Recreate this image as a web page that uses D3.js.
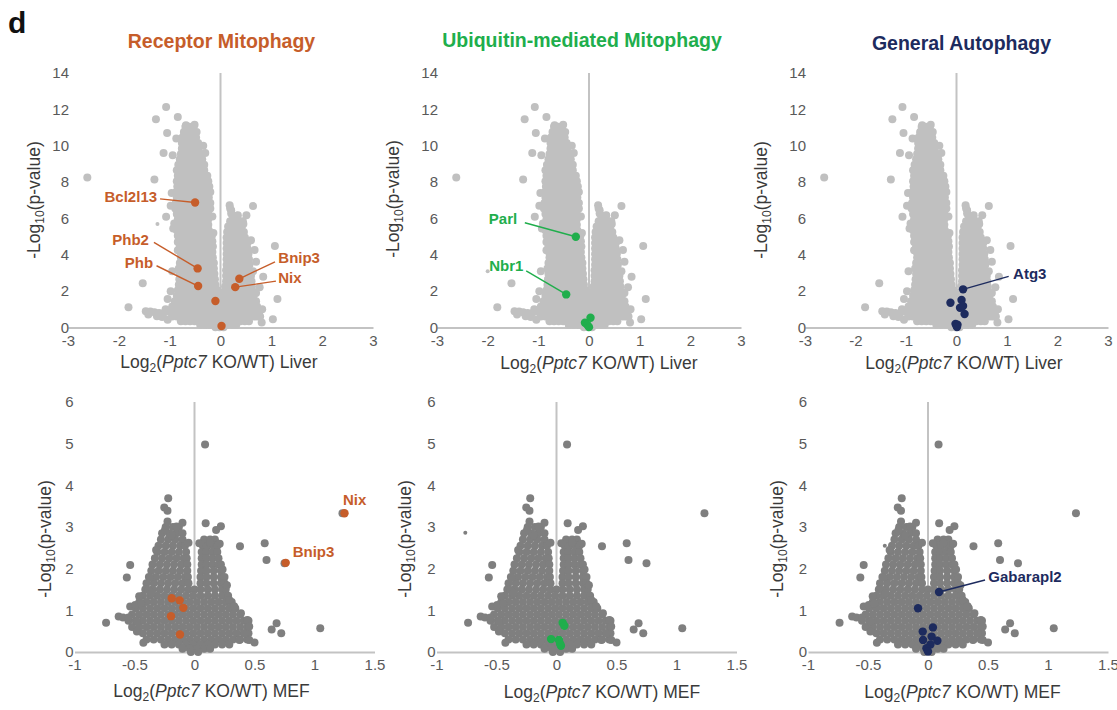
<!DOCTYPE html>
<meta charset="utf-8">
<style>
body{margin:0;background:#fff;}
text{font-family:"Liberation Sans",Arial,sans-serif;}
.ptitle{font-size:19.5px;font-weight:bold;text-anchor:middle;}
.atitle{font-size:17.5px;fill:#3a3a3a;text-anchor:middle;}
.gene{font-size:15px;font-weight:bold;}
</style>
<body>
<script src="https://cdn.jsdelivr.net/npm/d3@7"></script>
<script>

// tick values
var liverXTicks=[-3,-2,-1,0,1,2,3];
var liverYTicks=[0,2,4,6,8,10,12,14];
var mefXTicks=[-1,-0.5,0,0.5,1,1.5];
var mefYTicks=[0,1,2,3,4,5,6];

// liver background proteins: dense body as rows [y,[x...]], plus scattered ones [x,y]
var liverRows=[
[11.05,[-0.69,-0.61,-0.53]],
[10.75,[-0.72,-0.63,-0.54,-0.47]],
[10.45,[-0.75,-0.66,-0.57,-0.48]],
[10.15,[-0.76,-0.67,-0.58,-0.49,-0.44]],
[9.85,[-0.76,-0.67,-0.58,-0.49,-0.43]],
[9.55,[-0.78,-0.69,-0.60,-0.51,-0.42,-0.38]],
[9.25,[-0.80,-0.71,-0.62,-0.53,-0.44,-0.36]],
[8.95,[-0.83,-0.74,-0.65,-0.56,-0.47,-0.38,-0.32]],
[8.65,[-0.86,-0.77,-0.68,-0.59,-0.50,-0.41,-0.32]],
[8.35,[-0.84,-0.75,-0.66,-0.57,-0.48,-0.39,-0.30,-0.26]],
[8.05,[-0.86,-0.77,-0.68,-0.59,-0.50,-0.41,-0.32,-0.24]],
[7.75,[-0.85,-0.76,-0.67,-0.58,-0.49,-0.40,-0.31,-0.22]],
[7.45,[-0.87,-0.78,-0.69,-0.60,-0.51,-0.42,-0.33,-0.24,-0.20]],
[7.15,[-0.86,-0.77,-0.68,-0.59,-0.50,-0.41,-0.32,-0.23]],
[6.85,[-0.88,-0.79,-0.70,-0.61,-0.52,-0.43,-0.34,-0.25,-0.20]],
[6.55,[-0.89,-0.80,-0.71,-0.62,-0.53,-0.44,-0.35,-0.26,-0.20]],
[6.25,[-0.86,-0.77,-0.68,-0.59,-0.50,-0.41,-0.32,-0.24]],
[5.95,[-0.84,-0.75,-0.66,-0.57,-0.48,-0.39,-0.30,-0.24]],
[5.65,[-0.85,-0.76,-0.67,-0.58,-0.49,-0.40,-0.31,-0.24]],
[5.35,[-0.86,-0.77,-0.68,-0.59,-0.50,-0.41,-0.32,-0.23]],
[5.05,[-0.84,-0.75,-0.66,-0.57,-0.48,-0.39,-0.30,-0.21,-0.17]],
[4.75,[-0.82,-0.73,-0.64,-0.55,-0.46,-0.37,-0.28,-0.19,-0.16]],
[4.45,[-0.80,-0.71,-0.62,-0.53,-0.44,-0.35,-0.26,-0.17,-0.15]],
[4.15,[-0.79,-0.70,-0.61,-0.52,-0.43,-0.34,-0.25,-0.16]],
[3.85,[-0.78,-0.69,-0.60,-0.51,-0.42,-0.33,-0.24,-0.15]],
[3.55,[-0.80,-0.71,-0.62,-0.53,-0.44,-0.35,-0.26,-0.17,-0.13]],
[3.25,[-0.82,-0.73,-0.64,-0.55,-0.46,-0.37,-0.28,-0.19,-0.13]],
[2.95,[-0.80,-0.71,-0.62,-0.53,-0.44,-0.35,-0.26,-0.17,-0.12]],
[2.65,[-0.81,-0.72,-0.63,-0.54,-0.45,-0.36,-0.27,-0.18,-0.11]],
[2.35,[-0.82,-0.73,-0.64,-0.55,-0.46,-0.37,-0.28,-0.19,-0.10]],
[2.05,[-0.84,-0.75,-0.66,-0.57,-0.48,-0.39,-0.30,-0.21,-0.12,-0.06]],
[6.45,[0.21]],
[6.15,[0.24,0.33]],
[5.85,[0.19,0.28,0.37,0.44]],
[5.55,[0.15,0.24,0.33,0.42]],
[5.25,[0.13,0.22,0.31,0.40,0.46]],
[4.95,[0.12,0.21,0.30,0.39,0.48]],
[4.65,[0.12,0.21,0.30,0.39,0.48,0.53]],
[4.35,[0.12,0.21,0.30,0.39,0.48,0.53]],
[4.05,[0.12,0.21,0.30,0.39,0.48,0.55]],
[3.75,[0.12,0.21,0.30,0.39,0.48,0.56]],
[3.45,[0.12,0.21,0.30,0.39,0.48,0.57]],
[3.15,[0.11,0.20,0.29,0.38,0.47,0.56]],
[2.85,[0.11,0.20,0.29,0.38,0.47,0.56,0.60]],
[2.55,[0.11,0.20,0.29,0.38,0.47,0.56,0.61]],
[2.25,[0.09,0.18,0.27,0.36,0.45,0.54,0.62]],
[1.95,[0.07,0.16,0.25,0.34,0.43,0.52,0.61,0.65]],
[1.75,[-0.86,-0.77,-0.68,-0.59,-0.50,-0.41,-0.32,-0.23,-0.14,-0.06,0.04,0.12,0.20,0.29,0.38,0.47,0.56,0.65]],
[1.45,[-0.90,-0.81,-0.72,-0.63,-0.54,-0.45,-0.36,-0.27,-0.18,-0.09,0.00,0.09,0.18,0.27,0.36,0.45,0.54,0.63,0.70]],
[1.15,[-0.95,-0.86,-0.77,-0.68,-0.59,-0.50,-0.41,-0.32,-0.23,-0.14,-0.05,0.04,0.13,0.22,0.31,0.40,0.49,0.58,0.67,0.72]],
[0.85,[-1.00,-0.91,-0.82,-0.73,-0.64,-0.55,-0.46,-0.37,-0.28,-0.19,-0.10,-0.01,0.08,0.17,0.26,0.35,0.44,0.53,0.62,0.70,0.76]],
[0.60,[-0.95,-0.86,-0.77,-0.68,-0.59,-0.50,-0.41,-0.32,-0.23,-0.14,-0.05,0.04,0.13,0.22,0.31,0.40,0.49,0.58,0.66,0.72]],
[0.35,[-0.78,-0.69,-0.60,-0.51,-0.42,-0.33,-0.24,-0.15,-0.06,0.03,0.12,0.21,0.30,0.39,0.48,0.56]],
[0.15,[-0.40,-0.31,-0.22,-0.13,-0.04,0.05,0.14,0.23,0.31]],
[0.02,[-0.10,-0.02,0.06]]
];
var liverSparse=[
[-1.07,12.13],[-1.27,11.46],[-0.84,11.58],[-0.68,11.13],[-0.51,11.16],[-1.05,10.70],[-0.87,10.40],[-0.71,10.67],
[-1.12,9.60],[-0.94,9.48],[-1.30,8.14],[-2.62,8.25],[-1.07,6.09],[-0.91,5.72],[-0.93,5.45],[-0.84,4.71],[-0.84,4.25],
[-0.95,3.10],[-0.98,2.00],[-0.96,7.40],[-0.98,6.70],[-0.30,9.60],[-0.34,10.00],[-0.16,6.10],[-0.14,5.20],
[0.18,6.73],[0.64,6.68],[0.19,6.55],[0.21,6.27],[0.34,6.18],[0.51,6.18],[0.45,5.70],[1.07,4.48],[0.67,4.26],
[0.70,3.62],[0.84,2.79],[0.77,2.21],[0.70,1.90],[1.12,1.57],[0.82,1.00],[0.78,0.60],[1.03,0.45],[0.81,0.27],
[0.60,4.80],[0.64,3.10],
[-1.53,2.43],[-1.81,1.11],[-1.04,1.57],[-1.47,0.90],[-1.38,0.88],[-1.30,0.84],[-1.21,0.80],[-1.12,0.78],
[-1.42,0.72],[-1.25,0.62],[-1.15,0.58],[-1.04,0.42],[-1.08,1.00]
];

// MEF background proteins
var mefRows=[
[3.00,[-0.24,-0.18,-0.13]],
[2.85,[-0.27,-0.21,-0.15,-0.10]],
[2.70,[-0.28,-0.22,-0.16,-0.10,0.08,0.13,0.17]],
[2.55,[-0.30,-0.24,-0.18,-0.12,-0.08,0.07,0.11,0.16,0.19]],
[2.40,[-0.31,-0.25,-0.19,-0.13,-0.07,0.06,0.10,0.15,0.19]],
[2.25,[-0.33,-0.27,-0.21,-0.15,-0.09,-0.065,0.06,0.10,0.15,0.20]],
[2.10,[-0.35,-0.29,-0.23,-0.17,-0.11,-0.06,0.06,0.10,0.15,0.20,0.22]],
[1.95,[-0.36,-0.30,-0.24,-0.18,-0.12,-0.06,0.055,0.10,0.16,0.22]],
[1.80,[-0.38,-0.32,-0.26,-0.20,-0.14,-0.08,-0.055,0.05,0.10,0.16,0.22,0.25]],
[1.65,[-0.40,-0.34,-0.28,-0.22,-0.16,-0.10,-0.05,0.05,0.10,0.16,0.22,0.25]],
[1.50,[-0.41,-0.35,-0.29,-0.23,-0.17,-0.11,-0.05,0.00,0.05,0.11,0.17,0.23,0.26]],
[1.35,[-0.43,-0.37,-0.31,-0.25,-0.19,-0.13,-0.07,-0.01,0.05,0.11,0.17,0.23,0.28]],
[1.20,[-0.46,-0.40,-0.34,-0.28,-0.22,-0.16,-0.10,-0.04,0.02,0.08,0.14,0.20,0.26,0.31]],
[1.05,[-0.49,-0.43,-0.37,-0.31,-0.25,-0.19,-0.13,-0.07,-0.01,0.05,0.11,0.17,0.23,0.29,0.34]],
[0.90,[-0.52,-0.46,-0.40,-0.34,-0.28,-0.22,-0.16,-0.10,-0.04,0.02,0.08,0.14,0.20,0.26,0.32,0.38]],
[0.75,[-0.55,-0.49,-0.43,-0.37,-0.31,-0.25,-0.19,-0.13,-0.07,-0.01,0.05,0.11,0.17,0.23,0.29,0.35,0.41,0.45]],
[0.60,[-0.52,-0.46,-0.40,-0.34,-0.28,-0.22,-0.16,-0.10,-0.04,0.02,0.08,0.14,0.20,0.26,0.32,0.38,0.44]],
[0.45,[-0.43,-0.37,-0.31,-0.25,-0.19,-0.13,-0.07,-0.01,0.05,0.11,0.17,0.23,0.29,0.35,0.41,0.45]],
[0.30,[-0.40,-0.34,-0.28,-0.22,-0.16,-0.10,-0.04,0.02,0.08,0.14,0.20,0.26,0.32,0.38,0.44]],
[0.18,[-0.25,-0.19,-0.13,-0.07,-0.01,0.05,0.11,0.17,0.23,0.29]],
[0.08,[-0.10,-0.04,0.02,0.08,0.13]],
[0.00,[-0.03,0.03]]
];
var mefSparse=[
[0.088,4.98],[-0.219,3.69],[-0.252,3.47],[-0.225,3.39],[-0.225,3.13],[-0.10,3.10],[-0.15,3.01],[-0.246,2.93],
[-0.19,2.80],[0.093,3.09],[0.22,3.02],[0.18,2.93],[0.04,2.61],[0.13,2.62],[1.233,3.33],[0.379,2.54],[0.585,2.61],
[0.60,2.21],[0.75,2.13],[0.684,0.69],[0.643,0.54],[0.723,0.45],[1.048,0.57],[-0.536,2.09],[-0.564,1.79],
[-0.37,1.79],[-0.384,1.49],[-0.357,1.41],[-0.461,1.34],[-0.536,1.09],[-0.494,1.13],[-0.445,1.17],[-0.632,0.85],
[-0.596,0.83],[-0.55,0.83],[-0.737,0.70],[-0.48,0.73],[-0.48,0.49],[-0.426,0.22],[0.234,1.98],[0.29,1.25],
[0.33,1.10],[0.387,0.93],[0.44,0.77],[0.456,0.61],[0.415,0.45],[0.374,0.29],[0.456,0.29],[0.50,0.23],
[-0.32,2.45],[-0.05,2.62],[0.21,2.60],[0.27,1.60]
];

// tiny stray marks, one per panel [panel, x, y]
var strayDots=[[0,-1.24,5.69],[1,-2.0,3.1],[4,-0.76,2.86],[5,-0.36,2.55]];

// highlighted proteins [gene, x, y]
var receptorLiver=[["Bcl2l13",-0.50,6.88],["Phb2",-0.45,3.25],["Phb",-0.44,2.28],["Bnip3",0.37,2.68],["Nix",0.29,2.22],["",-0.10,1.46],["",0.02,0.08]];
var ubiquitinLiver=[["Parl",-0.26,4.99],["Nbr1",-0.45,1.82],["",0.03,0.54],["",-0.08,0.26],["",-0.03,0.14],["",0.00,0.02]];
var generalLiver=[["Atg3",0.13,2.10],["",-0.12,1.36],["",0.10,1.51],["",0.07,1.09],["",0.13,1.18],["",0.16,0.74],["",-0.02,0.20],["",0.00,0.10],["",0.02,0.15],["",0.01,0.03]];
var receptorMef=[["Nix",1.25,3.33],["Bnip3",0.76,2.14],["",-0.19,1.29],["",-0.124,1.24],["",-0.093,1.06],["",-0.196,0.86],["",-0.121,0.42]];
var ubiquitinMef=[["",0.051,0.70],["",0.065,0.63],["",-0.045,0.31],["",0.02,0.29],["",0.037,0.15],["",0.03,0.20]];
var generalMef=[["Gabarapl2",0.092,1.44],["",-0.083,1.05],["",-0.044,0.49],["",0.041,0.59],["",-0.041,0.29],["",0.03,0.37],["",0.078,0.27],["",0.02,0.18],["",-0.013,0.09],["",0.00,0.01]];

var orange="#c65d2a", green="#20ae4c", navy="#1d2b5e";

function unpack(rows,sparse){
  var pts=[];
  rows.forEach(function(r){ r[1].forEach(function(x){ pts.push([x,r[0]]); }); });
  return pts.concat(sparse);
}
var liverPts=unpack(liverRows,liverSparse);
var mefPts=unpack(mefRows,mefSparse);

// panel layout; label offsets are pixels from the dot: [textDx,textDy,anchor,lineDx,lineDy]
var panels=[
 {title:"Receptor Mitophagy",color:orange,tx:221.5,ty:48,xr:[68,373],liver:true,hl:receptorLiver,yt:[40,200],xtl:[219,368],
  labels:{Bcl2l13:[-38,0,"end",-35,-3.6],Phb2:[-48.7,-23.8,"end",-43.7,-26],Phb:[-45,-18,"end",-41.6,-20.3],Bnip3:[39,-15.7,"start",35.7,-17],Nix:[43,-4,"start",40.7,-6]}},
 {title:"Ubiquitin-mediated Mitophagy",color:green,tx:582,ty:47,xr:[437,741],liver:true,hl:ubiquitinLiver,yt:[399,199],xtl:[599,369],
  labels:{Parl:[-87,-13.2,"start",-51,-14],Nbr1:[-77,-23.3,"start",-40,-23.6]}},
 {title:"General Autophagy",color:navy,tx:961.5,ty:50,xr:[805,1108],liver:true,hl:generalLiver,yt:[767,200],xtl:[964,369],
  labels:{Atg3:[50,-10,"start",45.6,-13]}},
 {color:orange,xr:[74.5,374.5],liver:false,hl:receptorMef,yt:[51,539],xtl:[211.5,697],
  labels:{Nix:[-1.6,-8.3,"start"],Bnip3:[7,-6,"start"]}},
 {color:green,xr:[436.5,736.5],liver:false,hl:ubiquitinMef,yt:[411,539],xtl:[602,698],labels:{}},
 {color:navy,xr:[808,1108],liver:false,hl:generalMef,yt:[783,539],xtl:[962.5,698],
  labels:{Gabarapl2:[49.3,-10,"start",46,-12]}}
];

var svg=d3.select("body").append("svg").attr("width",1117).attr("height",710);

svg.append("text").attr("x",8).attr("y",33).style("font-size","30px").style("font-weight","bold")
  .attr("fill","#111").text("d");

panels.forEach(function(p,i){
  var g=svg.append("g");
  var xd=p.liver?[-3,3]:[-1,1.5];
  var yd=p.liver?[0,14]:[0,6];
  var x=d3.scaleLinear().domain(xd).range(p.xr);
  var y=d3.scaleLinear().domain(yd).range(p.liver?[327.5,73]:[652,402]);
  var grey=p.liver?"#c0c0c0":"#7f7f7f";

  if(p.title){
    g.append("text").attr("class","ptitle").attr("x",p.tx).attr("y",p.ty).attr("fill",p.color).text(p.title);
  }

  // x axis: the domain path is the horizontal line at y=0
  var gx=g.append("g").attr("transform","translate(0,"+y(0)+")")
    .call(d3.axisBottom(x).tickValues(p.liver?liverXTicks:mefXTicks).tickFormat(d=>String(d))
      .tickSize(0).tickSizeOuter(0).tickPadding(p.liver?7.5:7));
  gx.attr("font-family",null).attr("font-size",null);
  gx.select(".domain").attr("stroke","#c3c3c3").attr("stroke-width",2);
  gx.selectAll("text").attr("fill","#595959").style("font-size","15px");

  var gy=g.append("g").attr("transform","translate("+x(xd[0])+",0)")
    .call(d3.axisLeft(y).tickValues(p.liver?liverYTicks:mefYTicks).tickFormat(d=>String(d))
      .tickSize(0).tickPadding(p.liver?-1:1));
  gy.attr("font-family",null).attr("font-size",null);
  gy.select(".domain").remove();
  gy.selectAll("text").attr("fill","#595959").style("font-size","15px");

  g.append("line").attr("x1",x(0)).attr("x2",x(0)).attr("y1",y(yd[0])).attr("y2",y(yd[1]))
    .attr("stroke","#c3c3c3").attr("stroke-width",2);

  // axis titles
  var xt=g.append("text").attr("class","atitle").attr("x",p.xtl[0]).attr("y",p.xtl[1]);
  xt.append("tspan").text("Log");
  xt.append("tspan").attr("dy",4).style("font-size","12px").text("2");
  xt.append("tspan").attr("dy",-4).text("(");
  xt.append("tspan").style("font-style","italic").text("Pptc7");
  xt.append("tspan").text(p.liver?" KO/WT) Liver":" KO/WT) MEF");

  var yt=g.append("text").attr("class","atitle")
    .attr("transform","translate("+p.yt[0]+","+p.yt[1]+") rotate(-90)");
  yt.append("tspan").text("-Log");
  yt.append("tspan").attr("dy",4).style("font-size","12px").text("10");
  yt.append("tspan").attr("dy",-4).text("(p-value)");

  // background proteins
  g.append("g").selectAll("circle").data(p.liver?liverPts:mefPts).join("circle")
    .attr("cx",d=>x(d[0])).attr("cy",d=>y(d[1])).attr("r",4).attr("fill",grey);
  g.append("g").selectAll("circle").data(strayDots.filter(d=>d[0]===i)).join("circle")
    .attr("cx",d=>x(d[1])).attr("cy",d=>y(d[2])).attr("r",2).attr("fill",grey);

  // leader lines, highlighted dots, gene names
  var named=p.hl.filter(d=>p.labels[d[0]]);
  g.append("g").selectAll("line").data(named.filter(d=>p.labels[d[0]].length>3)).join("line")
    .attr("x1",d=>x(d[1])+p.labels[d[0]][3]).attr("y1",d=>y(d[2])+p.labels[d[0]][4])
    .attr("x2",d=>x(d[1])).attr("y2",d=>y(d[2]))
    .attr("stroke",p.color).attr("stroke-width",1.4);
  g.append("g").selectAll("circle").data(p.hl).join("circle")
    .attr("cx",d=>x(d[1])).attr("cy",d=>y(d[2])).attr("r",4.2).attr("fill",p.color);
  g.append("g").selectAll("text").data(named).join("text").attr("class","gene")
    .attr("x",d=>x(d[1])+p.labels[d[0]][0]).attr("y",d=>y(d[2])+p.labels[d[0]][1])
    .attr("text-anchor",d=>p.labels[d[0]][2]).attr("fill",p.color).text(d=>d[0]);
});
</script>
</body>
